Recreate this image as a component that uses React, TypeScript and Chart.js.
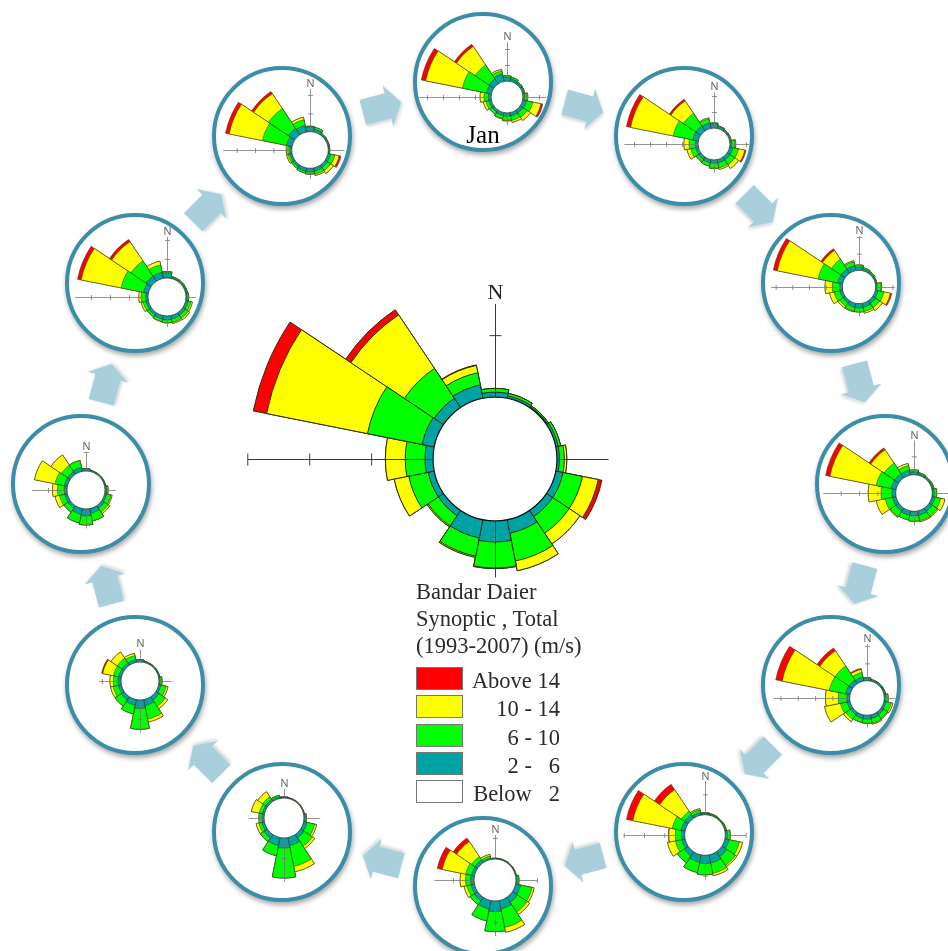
import React, { useEffect, useRef } from 'react';
import { Chart, registerables } from 'chart.js';

Chart.register(...registerables);

// ---------------- data ----------------
const DIRECTIONS = ['N', 'NNE', 'NE', 'ENE', 'E', 'ESE', 'SE', 'SSE', 'S', 'SSW', 'SW', 'WSW', 'W', 'WNW', 'NW', 'NNW'];
const MONTHS = ['Jan', 'Feb', 'Mar', 'Apr', 'May', 'Jun', 'Jul', 'Aug', 'Sep', 'Oct', 'Nov', 'Dec'];
const LEGEND_LABELS = ['Above 14', '10 - 14', '6 - 10', '2 -   6', 'Below   2'];
const TITLE_LINES = ['Bandar Daier', 'Synoptic , Total', '(1993-2007) (m/s)'];

const CALM = 5; // radius of the calm circle (%)
const TICK_STEP = 5; // radial tick interval (%)

// Total (1993-2007) rose, one value per direction (N .. NNW)
const total2to6 = [0.4, 0.2, 0.1, 0.2, 0.2, 0.6, 0.6, 1.1, 1.7, 1.5, 0.5, 0.5, 0.65, 1.0, 0.9, 1.1];
const total6to10 = [0.3, 0.2, 0.1, 0.2, 0.4, 1.6, 1.6, 2.3, 2.1, 1.5, 1.0, 1.6, 1.6, 4.5, 2.9, 1.0];
const total10to14 = [0, 0, 0, 0, 0.2, 1.3, 1.05, 0.8, 0.05, 0.1, 0.1, 1.2, 1.6, 8.3, 5.2, 0.6];
const totalAbove14 = [0, 0, 0, 0, 0, 0.3, 0, 0, 0, 0, 0, 0, 0, 1.1, 0.5, 0.05];
const totalRadialMax = 21.8;

// Monthly roses (Jan .. Dec), each row N .. NNW
const month2to6 = [
  [1.25, 0.8, 0.5, 0.4, 0.5, 1.2, 1.0, 1.0, 1.0, 0.9, 0.7, 0.7, 0.8, 1.5, 1.8, 2.3],
  [1.3, 0.6, 0.3, 0.3, 0.5, 1.0, 1.0, 1.0, 1.0, 1.0, 0.8, 0.8, 0.8, 1.8, 1.8, 1.7],
  [1.0, 0.5, 0.4, 0.3, 0.4, 0.8, 1.0, 1.2, 1.3, 1.2, 0.8, 0.8, 0.8, 1.5, 1.5, 1.5],
  [0.8, 0.4, 0.3, 0.3, 0.5, 0.8, 1.0, 1.2, 1.2, 1.2, 1.0, 1.0, 1.0, 1.4, 1.4, 1.3],
  [0.6, 0.3, 0.3, 0.3, 0.5, 0.6, 0.8, 1.0, 1.1, 1.0, 0.8, 0.8, 0.8, 1.3, 1.3, 1.2],
  [0.3, 0.2, 0.2, 0.2, 0.5, 1.0, 1.4, 2.0, 2.0, 1.8, 1.2, 0.8, 0.8, 1.0, 1.0, 0.6],
  [0.1, 0.1, 0.1, 0.1, 0.3, 1.2, 1.4, 2.0, 2.5, 2.0, 1.0, 0.8, 0.8, 0.7, 0.7, 0.3],
  [0.2, 0.1, 0.1, 0.1, 0.3, 0.8, 1.0, 2.0, 2.5, 2.0, 1.0, 0.6, 0.5, 0.5, 0.5, 0.4],
  [0.6, 0.2, 0.2, 0.2, 0.3, 0.6, 1.0, 1.6, 2.2, 1.5, 1.0, 0.8, 0.8, 0.7, 0.7, 0.7],
  [0.6, 0.2, 0.2, 0.2, 0.4, 0.5, 0.8, 1.2, 1.8, 1.5, 0.8, 0.7, 0.7, 0.8, 0.8, 1.0],
  [1.4, 0.3, 0.3, 0.3, 0.3, 0.6, 0.8, 0.9, 1.0, 0.9, 0.7, 0.6, 0.6, 1.3, 1.6, 1.6],
  [1.3, 0.8, 0.3, 0.3, 0.2, 0.7, 0.8, 0.9, 1.0, 0.9, 0.6, 0.5, 0.5, 1.5, 2.1, 1.8],
];
const month6to10 = [
  [0.4, 0.5, 0.3, 0.3, 0.7, 2.0, 1.6, 1.4, 1.3, 1.0, 0.8, 1.0, 1.4, 7.7, 5.2, 1.0],
  [0.3, 0.2, 0.2, 0.2, 1.0, 1.8, 1.8, 1.6, 1.5, 1.0, 0.8, 1.6, 2.0, 6.2, 4.7, 1.3],
  [0.6, 0.4, 0.3, 0.2, 1.2, 1.8, 1.5, 1.3, 1.2, 1.2, 1.2, 1.8, 2.2, 6.0, 3.5, 1.2],
  [0.5, 0.3, 0.2, 0.3, 0.7, 1.6, 1.6, 1.5, 1.5, 1.3, 1.8, 2.0, 3.0, 4.1, 3.4, 1.3],
  [0.3, 0.2, 0.2, 0.2, 0.6, 1.5, 1.3, 1.4, 1.2, 1.2, 1.6, 2.0, 2.5, 4.8, 4.8, 1.3],
  [0.2, 0.2, 0.1, 0.2, 0.7, 2.6, 2.6, 2.6, 2.8, 2.6, 2.0, 1.6, 1.5, 2.2, 1.0, 0.7],
  [0.1, 0.1, 0.1, 0.1, 0.4, 2.8, 2.8, 4.5, 4.8, 2.9, 1.1, 1.0, 1.2, 1.4, 1.0, 0.5],
  [0.1, 0.1, 0.1, 0.1, 0.3, 2.0, 2.5, 5.3, 7.5, 2.6, 1.1, 0.8, 0.6, 0.8, 0.9, 0.4],
  [0, 0.1, 0.1, 0.1, 0.5, 1.4, 2.0, 3.6, 5.5, 2.3, 1.9, 1.4, 1.2, 1.4, 1.5, 1.1],
  [0, 0.1, 0.1, 0.1, 0.4, 1.2, 1.2, 2.1, 2.4, 2.3, 1.2, 1.4, 1.8, 2.5, 2.0, 1.9],
  [0.3, 0.2, 0.2, 0.2, 0.4, 0.8, 0.9, 0.9, 0.8, 0.7, 0.6, 0.8, 1.2, 6.0, 4.8, 2.0],
  [0.2, 0.5, 0.2, 0.1, 0.2, 1.2, 1.0, 0.8, 0.6, 0.5, 0.5, 0.6, 0.6, 6.7, 6.5, 1.6],
];
const month10to14 = [
  [0, 0, 0, 0, 0.3, 2.6, 1.2, 0.7, 0.2, 0.1, 0, 0.8, 1.2, 11.7, 7.0, 0.5],
  [0, 0, 0, 0, 0.3, 2.0, 1.4, 0.5, 0.2, 0, 0.2, 1.2, 1.6, 13.6, 4.7, 0.3],
  [0, 0, 0, 0, 0.2, 2.0, 1.0, 0.5, 0, 0.2, 0.6, 1.4, 2.2, 12.5, 3.2, 0.3],
  [0, 0, 0, 0, 0, 1.2, 0.3, 0.3, 0, 0, 0.2, 2.5, 3.5, 12.9, 4.4, 0.6],
  [0, 0, 0, 0, 0, 0.5, 0.2, 0.3, 0, 0, 0.8, 4.7, 3.7, 13.9, 5.3, 0.9],
  [0, 0, 0, 0, 0, 0.8, 0.4, 0.6, 0, 0, 0, 2.0, 1.6, 9.9, 6.4, 0.3],
  [0, 0, 0, 0, 0, 0.5, 0.7, 1.2, 0, 0, 0, 0.7, 1.3, 5.7, 4.3, 0.4],
  [0, 0, 0, 0, 0, 0.5, 0.7, 1.4, 0, 0, 0, 0.7, 0.2, 2.0, 1.5, 0],
  [0, 0, 0, 0, 0, 0.5, 0.8, 0.8, 0, 0, 0, 0.7, 0.9, 2.9, 2.0, 0.6],
  [0, 0, 0, 0, 0, 0.3, 0.5, 0, 0, 0, 0, 1.2, 1.3, 5.5, 3.3, 0],
  [0, 0, 0, 0, 0, 0.4, 0.5, 0.3, 0, 0, 0, 0.5, 0.6, 10.7, 6.1, 1.0],
  [0, 0, 0, 0, 0, 1.2, 0.9, 0.4, 0, 0, 0, 0.4, 0.4, 9.3, 4.9, 0.7],
];
const monthAbove14 = [
  [0, 0, 0, 0, 0, 0.6, 0, 0, 0, 0, 0, 0, 0, 1.4, 0.8, 0],
  [0, 0, 0, 0, 0, 0.4, 0, 0, 0, 0, 0, 0, 0, 1.3, 0.6, 0],
  [0, 0, 0, 0, 0, 0.4, 0, 0, 0, 0, 0, 0, 0, 1.2, 0.6, 0],
  [0, 0, 0, 0, 0, 0, 0, 0, 0, 0, 0, 0, 0, 1.2, 0.6, 0],
  [0, 0, 0, 0, 0, 0, 0, 0, 0, 0, 0, 0, 0, 1.9, 1.0, 0.3],
  [0, 0, 0, 0, 0, 0, 0, 0, 0, 0, 0, 0, 0.1, 1.6, 1.6, 0],
  [0, 0, 0, 0, 0, 0, 0, 0, 0, 0, 0, 0, 0, 1.2, 1.0, 0],
  [0, 0, 0, 0, 0, 0, 0, 0, 0, 0, 0, 0, 0, 0, 0, 0],
  [0, 0, 0, 0, 0, 0, 0, 0, 0, 0, 0, 0, 0, 0.3, 0, 0],
  [0, 0, 0, 0, 0, 0, 0, 0, 0, 0, 0, 0, 0, 0, 0, 0],
  [0, 0, 0, 0, 0, 0, 0, 0, 0, 0, 0, 0, 0, 1.0, 0.7, 0],
  [0, 0, 0, 0, 0, 0.5, 0, 0, 0, 0, 0, 0, 0, 1.0, 0.7, 0],
];
const monthRadialMax = [31.25, 31.25, 30, 27.3, 28.9, 24.6, 23.8, 25, 26.3, 26.3, 26.3, 27.3];

// ---------------- layout & style ----------------
const PAGE_W = 948;
const PAGE_H = 951;
const RING_CX = 483;
const RING_CY = 484;
const RING_R = 402;
const ARROW_R = 390;
const CIRCLE_R = 70;
const CIRCLE_BORDER = 4;
const SMALL_HALF = 100;
const ROSE_OFFSETS = [
  [24, 15], [30, 8], [28, 4], [29, 9], [36, 13], [21, 3],
  [12, -6], [2, -14], [5, -4], [5, 6], [32, 14], [28, 14],
];
const CENTER_X = 495;
const CENTER_Y = 459;
const CENTER_HALF = 270;

const RED = '#FF0000';
const YELLOW = '#FFFF00';
const GREEN = '#00FF00';
const TEAL = '#00A3A3';
const LEGEND_COLORS = [RED, YELLOW, GREEN, TEAL, '#FFFFFF'];
const RING_COLOR = '#3C8DA8';
const ARROW_COLOR = '#A9CEDC';
const SERIF = '"Liberation Serif", "Times New Roman", serif';

const CENTER_DECOR = {
  calm: CALM, tickStep: TICK_STEP, margin: 0.5, tickHalf: 6,
  axisColor: '#3a3a3a', axisWidth: 1, calmColor: '#111', calmWidth: 1.2,
  nFont: '22px ' + SERIF, nColor: '#222', nGap: 5,
  edge: '#2d2d12', edgeWidth: 1,
};
const SMALL_DECOR = {
  calm: CALM, tickStep: TICK_STEP, margin: 0.8, tickHalf: 2.5,
  axisColor: '#777', axisWidth: 0.8, calmColor: '#333', calmWidth: 0.8,
  nFont: '11px "Liberation Sans", Arial, sans-serif', nColor: '#666', nGap: 2,
  edge: '#3a3a20', edgeWidth: 0.6,
};

const roseDecor = {
  id: 'roseDecor',
  afterDatasetsDraw(chart: any, _args: any, o: any) {
    const s = chart.scales.r;
    const ctx = chart.ctx;
    const d = (v: number) => s.getDistanceFromCenterForValue(v);
    const ppu = d(1) - d(0);
    const ds = chart.data.datasets;
    const outer = ds[ds.length - 1].data as number[];
    let up = 0, down = 0, left = 0, right = 0;
    outer.forEach((v, i) => {
      const r = d(v);
      [-0.5, 0, 0.5].forEach((k) => {
        const a = ((i + k) * 22.5 * Math.PI) / 180;
        const x = r * Math.sin(a);
        const y = -r * Math.cos(a);
        right = Math.max(right, x);
        left = Math.max(left, -x);
        up = Math.max(up, -y);
        down = Math.max(down, y);
      });
    });
    const m = o.margin * ppu;
    up += m; down += m; left += m; right += m;
    const rc = d(o.calm);
    const X = Math.round(s.xCenter) + 0.5;
    const Y = Math.round(s.yCenter) + 0.5;
    ctx.save();
    ctx.strokeStyle = o.axisColor;
    ctx.lineWidth = o.axisWidth;
    ctx.beginPath();
    ctx.moveTo(X, Y - rc); ctx.lineTo(X, Y - up);
    ctx.moveTo(X, Y + rc); ctx.lineTo(X, Y + down);
    ctx.moveTo(X - rc, Y); ctx.lineTo(X - left, Y);
    ctx.moveTo(X + rc, Y); ctx.lineTo(X + right, Y);
    const maxExt = Math.max(up, down, left, right);
    const t = o.tickHalf;
    for (let v = o.tickStep * (Math.floor(o.calm / o.tickStep) + 1); ; v += o.tickStep) {
      const r = d(v);
      if (r > maxExt) break;
      if (r < up) { ctx.moveTo(X - t, Y - r); ctx.lineTo(X + t, Y - r); }
      if (r < down) { ctx.moveTo(X - t, Y + r); ctx.lineTo(X + t, Y + r); }
      if (r < left) { ctx.moveTo(X - r, Y - t); ctx.lineTo(X - r, Y + t); }
      if (r < right) { ctx.moveTo(X + r, Y - t); ctx.lineTo(X + r, Y + t); }
    }
    ctx.stroke();
    ctx.beginPath();
    ctx.arc(s.xCenter, s.yCenter, rc, 0, Math.PI * 2);
    ctx.fillStyle = '#fff';
    ctx.fill();
    ctx.strokeStyle = o.calmColor;
    ctx.lineWidth = o.calmWidth;
    ctx.stroke();
    ctx.fillStyle = o.nColor;
    ctx.font = o.nFont;
    ctx.textAlign = 'center';
    ctx.textBaseline = 'alphabetic';
    ctx.fillText('N', X, Y - up - o.nGap);
    ctx.restore();
  },
};

type RoseProps = {
  teal: number[]; green: number[]; yellow: number[]; red: number[];
  rMax: number; half: number; left: number; top: number; decor: any;
};

function Rose({ teal, green, yellow, red, rMax, half, left, top, decor }: RoseProps) {
  const ref = useRef<HTMLCanvasElement>(null);
  useEffect(() => {
    const c1 = teal.map((v) => CALM + v);
    const c2 = c1.map((v, i) => v + green[i]);
    const c3 = c2.map((v, i) => v + yellow[i]);
    const c4 = c3.map((v, i) => v + red[i]);
    const mk = (data: number[], color: string) => ({
      data, backgroundColor: color, borderColor: decor.edge, borderWidth: decor.edgeWidth,
    });
    const chart = new Chart(ref.current as HTMLCanvasElement, {
      type: 'polarArea',
      data: {
        labels: DIRECTIONS,
        datasets: [mk(c1, TEAL), mk(c2, GREEN), mk(c3, YELLOW), mk(c4, RED)],
      },
      options: {
        responsive: false,
        animation: false,
        devicePixelRatio: 1,
        events: [],
        layout: { padding: 0 },
        plugins: { legend: { display: false }, tooltip: { enabled: false }, roseDecor: decor } as any,
        scales: { r: { display: false, min: 0, max: rMax, startAngle: -11.25 } },
      },
      plugins: [roseDecor as any],
    });
    return () => chart.destroy();
  }, []);
  return (
    <canvas
      ref={ref}
      width={half * 2}
      height={half * 2}
      style={{ position: 'absolute', left, top, width: half * 2, height: half * 2 }}
    />
  );
}

export default function App() {
  const circles = MONTHS.map((m, i) => {
    const a = (i * 30 * Math.PI) / 180;
    return { m, i, cx: RING_CX + RING_R * Math.sin(a), cy: RING_CY - RING_R * Math.cos(a) };
  });
  const arrows = MONTHS.map((_, i) => {
    const deg = i * 30 + 15;
    const a = (deg * Math.PI) / 180;
    return { deg, x: RING_CX + ARROW_R * Math.sin(a), y: RING_CY - ARROW_R * Math.cos(a) };
  });
  const inner = CIRCLE_R - CIRCLE_BORDER;
  return (
    <div style={{ position: 'absolute', left: 0, top: 0, width: PAGE_W, height: PAGE_H, overflow: 'hidden', background: '#fff' }}>
      <svg width={PAGE_W} height={PAGE_H} style={{ position: 'absolute', left: 0, top: 0 }}>
        <defs>
          <filter id="ash" x="-50%" y="-50%" width="200%" height="200%">
            <feDropShadow dx="1" dy="2" stdDeviation="1.5" floodColor="#000" floodOpacity="0.18" />
          </filter>
        </defs>
        {arrows.map((ar, k) => (
          <polygon
            key={k}
            points="-20,-13 6,-13 6,-21 20,0 6,21 6,13 -20,13"
            transform={`translate(${ar.x.toFixed(1)} ${ar.y.toFixed(1)}) rotate(${ar.deg})`}
            fill={ARROW_COLOR}
            filter="url(#ash)"
          />
        ))}
      </svg>

      <Rose
        teal={total2to6} green={total6to10} yellow={total10to14} red={totalAbove14}
        rMax={totalRadialMax} half={CENTER_HALF}
        left={CENTER_X - CENTER_HALF} top={CENTER_Y - CENTER_HALF} decor={CENTER_DECOR}
      />

      {circles.map(({ m, i, cx, cy }) => (
        <div
          key={m}
          style={{
            position: 'absolute', left: cx - CIRCLE_R, top: cy - CIRCLE_R,
            width: CIRCLE_R * 2, height: CIRCLE_R * 2, boxSizing: 'border-box',
            border: `${CIRCLE_BORDER}px solid ${RING_COLOR}`, borderRadius: '50%',
            overflow: 'hidden', background: '#fff', boxShadow: '1px 3px 5px rgba(0,0,0,0.35)',
          }}
        >
          <Rose
            teal={month2to6[i]} green={month6to10[i]} yellow={month10to14[i]} red={monthAbove14[i]}
            rMax={monthRadialMax[i]} half={SMALL_HALF}
            left={inner + ROSE_OFFSETS[i][0] - SMALL_HALF} top={inner + ROSE_OFFSETS[i][1] - SMALL_HALF}
            decor={SMALL_DECOR}
          />
          {m === 'Jan' && (
            <div
              style={{
                position: 'absolute', left: 0, width: inner * 2, top: 106 - (circles[0].cy - CIRCLE_R + CIRCLE_BORDER) + 16,
                textAlign: 'center', font: `25px/25px ${SERIF}`, color: '#000',
              }}
            >
              {m}
            </div>
          )}
        </div>
      ))}

      <div style={{ position: 'absolute', left: 416, top: 578, font: `22.5px/27px ${SERIF}`, color: '#2a2a2a', whiteSpace: 'pre' }}>
        {TITLE_LINES.map((t) => (
          <div key={t}>{t}</div>
        ))}
      </div>
      {LEGEND_LABELS.map((lab, k) => {
        const top = 667 + k * 28.25;
        return (
          <React.Fragment key={lab}>
            <div
              style={{
                position: 'absolute', left: 416, top, width: 47, height: 23, boxSizing: 'border-box',
                background: LEGEND_COLORS[k], border: '1px solid #777',
              }}
            />
            <div
              style={{
                position: 'absolute', left: 463, width: 97, top: top + 2, textAlign: 'right',
                font: `22.5px/23px ${SERIF}`, color: '#2a2a2a', whiteSpace: 'pre',
              }}
            >
              {lab}
            </div>
          </React.Fragment>
        );
      })}
    </div>
  );
}
